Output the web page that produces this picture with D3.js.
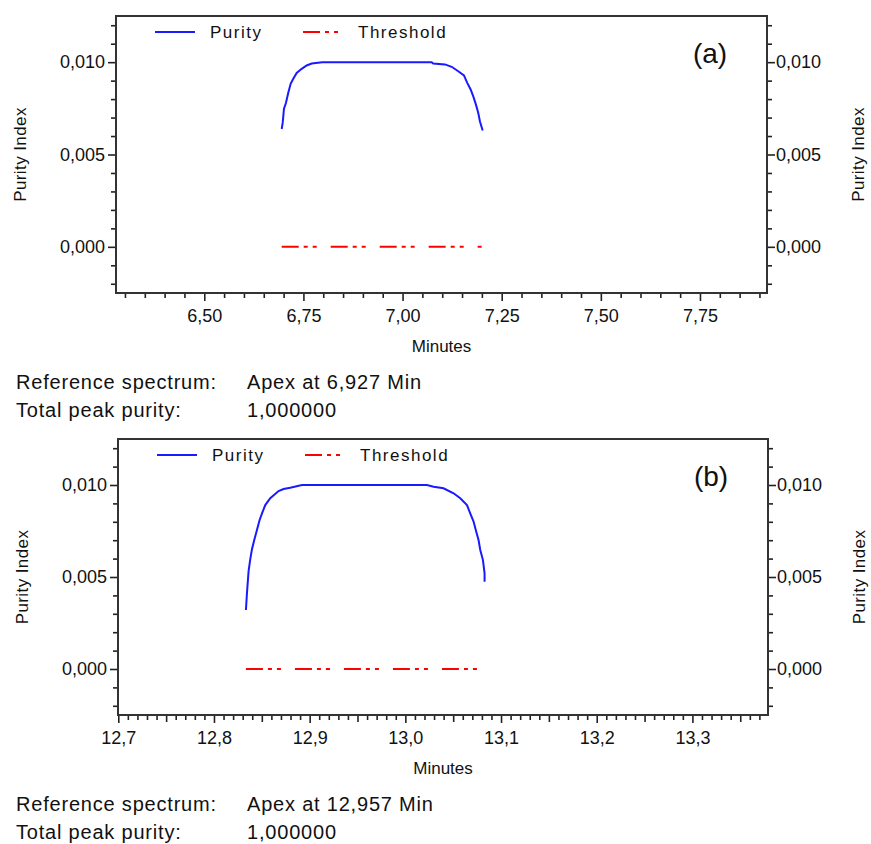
<!DOCTYPE html>
<html>
<head>
<meta charset="utf-8">
<script src="https://cdn.jsdelivr.net/npm/d3@7"></script>
<style>
  body { margin: 0; background: #fff; }
  svg { display: block; font-family: "Liberation Sans", Arial, sans-serif; }
</style>
</head>
<body>
<script>
// ---- data ----
const timesA = [6.6952, 6.6977, 6.7010, 6.7059, 6.7118, 6.7178, 6.7244, 6.7330, 6.7456, 6.7582, 6.7708, 6.7975,
                7.0734, 7.0774, 7.1069, 7.1238, 7.1404, 7.1548, 7.1631, 7.1717, 7.1783, 7.1851, 7.1909, 7.1952, 7.2020];
const purityA = [0.00638, 0.00671, 0.00748, 0.00779, 0.00834, 0.00883, 0.00910, 0.00942, 0.00964, 0.00982, 0.00993, 0.01000,
                 0.01000, 0.00993, 0.00988, 0.00975, 0.00951, 0.00928, 0.00888, 0.00852, 0.00815, 0.00770, 0.00725, 0.00679, 0.00630];
const thresholdA = [[6.6952, 0], [7.1995, 0]];

const timesB = [12.8334, 12.8345, 12.8362, 12.8379, 12.8397, 12.8421, 12.8449, 12.8477, 12.8502, 12.8536, 12.8588, 12.8675,
                12.8727, 12.8797, 12.8919, 13.0226, 13.0295, 13.0399, 13.0504, 13.0574, 13.0644, 13.0678, 13.0713, 13.0741,
                13.0765, 13.0783, 13.0811, 13.0828, 13.0828];
const purityB = [0.00321, 0.00415, 0.00533, 0.00596, 0.00651, 0.00701, 0.00755, 0.00810, 0.00846, 0.00891, 0.00928, 0.00967,
                 0.00978, 0.00985, 0.01000, 0.01000, 0.00991, 0.00982, 0.00955, 0.00928, 0.00891, 0.00846, 0.00801, 0.00746,
                 0.00701, 0.00647, 0.00592, 0.00520, 0.00474];
const thresholdB = [[12.8334, 0], [13.0774, 0]];

const xDomainA = [6.2774, 7.919];
const xDomainB = [12.6997, 13.379];
const yDomain = [-0.0025, 0.0125];

const xMajorA = [6.50, 6.75, 7.00, 7.25, 7.50, 7.75];
const xMajorB = [12.7, 12.8, 12.9, 13.0, 13.1, 13.2, 13.3];
const yMajor = [0.000, 0.005, 0.010];

const seriesNames = ["Purity", "Threshold"];
const infoA = ["Reference spectrum:", "Apex at 6,927 Min", "Total peak purity:", "1,000000"];
const infoB = ["Reference spectrum:", "Apex at 12,957 Min", "Total peak purity:", "1,000000"];

// ---- rendering ----
const W = 871, H = 844;
const svg = d3.select("body").append("svg").attr("width", W).attr("height", H);
svg.append("rect").attr("width", W).attr("height", H).attr("fill", "#fff");

const loc = d3.formatLocale({ decimal: ",", thousands: ".", grouping: [3], currency: ["", ""] });
const dash = "17,5,4,5,4,14";
const axisColor = "#222";

function drawPanel(p) {
  const x = d3.scaleLinear().domain(p.xDomain).range([p.left, p.right]);
  const y = d3.scaleLinear().domain(yDomain).range([p.bottom, p.top]);
  const g = svg.append("g");

  const yMinor = d3.range(-0.002, 0.01201, 0.001).filter(v => !yMajor.some(m => Math.abs(m - v) < 1e-9));
  const xMinor = d3.range(Math.ceil(p.xDomain[0] / p.minorStep - 1e-6) * p.minorStep, p.xDomain[1], p.minorStep)
    .filter(v => !p.xMajor.some(m => Math.abs(m - v) < 1e-6));

  const styleAxis = sel => {
    sel.select(".domain").remove();
    sel.selectAll("line").attr("stroke", axisColor).attr("stroke-width", 1.6);
    sel.selectAll("text").attr("fill", "#111").attr("font-size", 18);
  };

  // left axis
  g.append("g").attr("transform", `translate(${p.left},0)`)
    .call(d3.axisLeft(y).tickValues(yMajor).tickSize(8).tickPadding(3).tickFormat(loc.format(".3f")))
    .call(styleAxis);
  g.append("g").attr("transform", `translate(${p.left},0)`)
    .call(d3.axisLeft(y).tickValues(yMinor).tickSize(5).tickFormat(""))
    .call(styleAxis);
  // right axis
  g.append("g").attr("transform", `translate(${p.right},0)`)
    .call(d3.axisRight(y).tickValues(yMajor).tickSize(8).tickPadding(1).tickFormat(loc.format(".3f")))
    .call(styleAxis);
  g.append("g").attr("transform", `translate(${p.right},0)`)
    .call(d3.axisRight(y).tickValues(yMinor).tickSize(5).tickFormat(""))
    .call(styleAxis);
  // bottom axis
  g.append("g").attr("transform", `translate(0,${p.bottom})`)
    .call(d3.axisBottom(x).tickValues(p.xMajor).tickSize(8).tickPadding(8).tickFormat(loc.format(p.xFmt)))
    .call(styleAxis);
  g.append("g").attr("transform", `translate(0,${p.bottom})`)
    .call(d3.axisBottom(x).tickValues(xMinor).tickSize(5).tickFormat(""))
    .call(styleAxis)
    .selectAll(".tick line")
    .attr("y2", d => p.midStep && Math.abs(Math.round(d / p.midStep) * p.midStep - d) < 1e-6 ? 7 : 5);

  // frame
  g.append("rect")
    .attr("x", p.left).attr("y", p.top)
    .attr("width", p.right - p.left).attr("height", p.bottom - p.top)
    .attr("fill", "none").attr("stroke", "#333").attr("stroke-width", 2);

  // axis titles
  g.append("text").attr("x", (p.left + p.right) / 2).attr("y", p.bottom + 59)
    .attr("text-anchor", "middle").attr("font-size", 17).attr("fill", "#111").text("Minutes");
  const cy = (p.top + p.bottom) / 2;
  [p.left - 90, p.right + 97].forEach(tx => {
    g.append("text").attr("transform", `translate(${tx},${cy}) rotate(-90)`)
      .attr("text-anchor", "middle").attr("font-size", 17).attr("fill", "#111")
      .attr("letter-spacing", 0.4).text("Purity Index");
  });

  // series
  const line = d3.line().x(d => x(d[0])).y(d => y(d[1]));
  g.append("path").datum(p.threshold).attr("d", line)
    .attr("fill", "none").attr("stroke", "#ff0000").attr("stroke-width", 2).attr("stroke-dasharray", dash);
  g.append("path").datum(p.times.map((t, i) => [t, p.purity[i]])).attr("d", line)
    .attr("fill", "none").attr("stroke", "#1a1aff").attr("stroke-width", 2);

  // legend
  const ly = p.top + 16;
  g.append("line").attr("x1", p.left + 39).attr("x2", p.left + 79).attr("y1", ly).attr("y2", ly)
    .attr("stroke", "#1a1aff").attr("stroke-width", 2);
  g.append("text").attr("x", p.left + 94).attr("y", ly + 6).attr("font-size", 17).attr("fill", "#111")
    .attr("letter-spacing", 1.5).text(seriesNames[0]);
  g.append("line").attr("x1", p.left + 187).attr("x2", p.left + 227).attr("y1", ly).attr("y2", ly)
    .attr("stroke", "#ff0000").attr("stroke-width", 2).attr("stroke-dasharray", dash);
  g.append("text").attr("x", p.left + 242).attr("y", ly + 6).attr("font-size", 17).attr("fill", "#111")
    .attr("letter-spacing", 1.5).text(seriesNames[1]);

  // panel tag
  g.append("text").attr("x", p.right - 57).attr("y", p.top + 47).attr("text-anchor", "middle")
    .attr("font-size", 28).attr("fill", "#111").text(p.tag);

  // info lines under the panel
  const iy = p.bottom + 96;
  [[16, iy, 0], [247, iy, 1], [16, iy + 28, 2], [247, iy + 28, 3]].forEach(([tx, ty, k]) => {
    g.append("text").attr("x", tx).attr("y", ty).attr("font-size", 20).attr("fill", "#111")
      .attr("letter-spacing", 0.8).text(p.info[k]);
  });
}

drawPanel({ left: 116, right: 767, top: 16, bottom: 293, xDomain: xDomainA, xMajor: xMajorA, minorStep: 0.05,
            midStep: null, xFmt: ".2f", times: timesA, purity: purityA, threshold: thresholdA, tag: "(a)", info: infoA });
drawPanel({ left: 118, right: 768, top: 439, bottom: 715, xDomain: xDomainB, xMajor: xMajorB, minorStep: 0.01,
            midStep: 0.05, xFmt: ".1f", times: timesB, purity: purityB, threshold: thresholdB, tag: "(b)", info: infoB });
</script>
</body>
</html>
